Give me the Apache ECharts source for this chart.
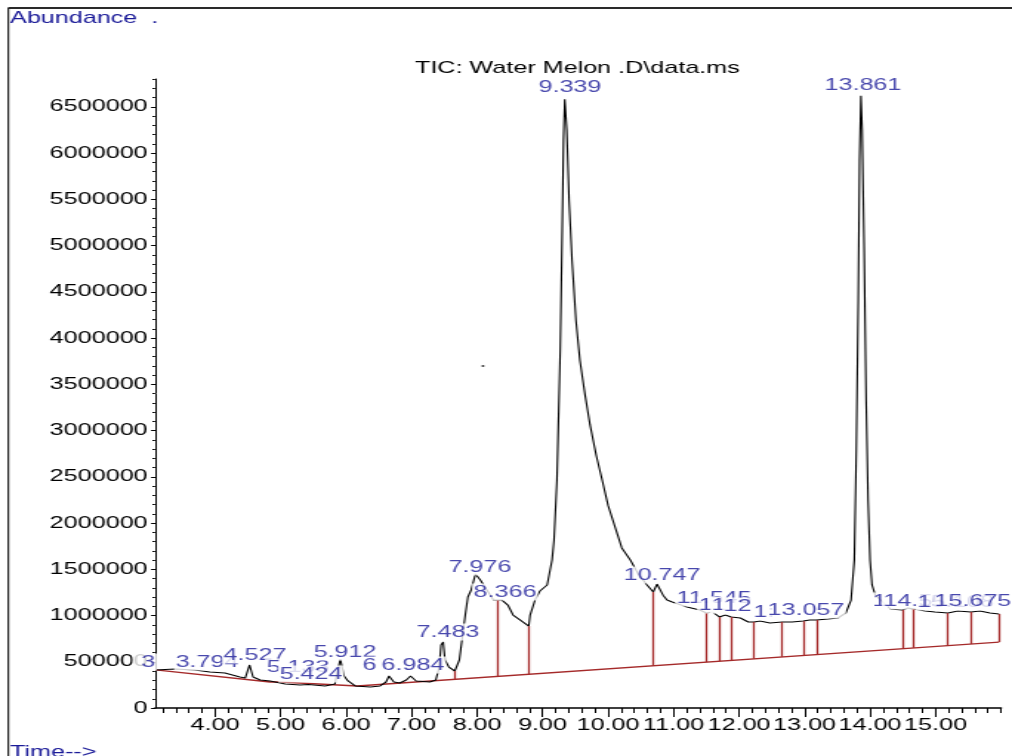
<!DOCTYPE html>
<html>
<head>
<meta charset="utf-8">
<script src="https://cdn.jsdelivr.net/npm/echarts@6.0.0/dist/echarts.min.js"></script>
<style>
  html, body { margin: 0; padding: 0; background: #fff; overflow: hidden; }
  /* the instrument printout is stretched sideways, so draw narrow and scale */
  #chart { width: 684px; height: 756px; transform: scaleX(1.4795); transform-origin: 0 0; }
</style>
</head>
<body>
<div id="chart"></div>
<script>
// TIC trace (minutes, abundance)
const traceTime = [3.09, 3.39, 3.69, 3.92, 4.15, 4.38, 4.46, 4.527, 4.58, 4.69, 4.84, 5.07, 5.30, 5.424, 5.68, 5.83, 5.912, 5.97, 6.03, 6.14,
  6.37, 6.52, 6.61, 6.656, 6.73, 6.82, 6.92, 6.984, 7.07, 7.28, 7.37, 7.42, 7.45, 7.483, 7.51, 7.57, 7.66, 7.73, 7.77, 7.82,
  7.86, 7.91, 7.976, 8.05, 8.15, 8.25, 8.38, 8.47, 8.55, 8.66, 8.79, 8.81, 8.885, 8.96, 9.07, 9.145, 9.175, 9.22, 9.27, 9.30,
  9.32, 9.339, 9.37, 9.405, 9.45, 9.51, 9.57, 9.65, 9.725, 9.82, 9.91, 10.0, 10.11, 10.21, 10.34, 10.46, 10.595, 10.69, 10.747, 10.84,
  10.90, 10.98, 11.205, 11.40, 11.50, 11.59, 11.70, 11.79, 11.88, 12.02, 12.14, 12.23, 12.32, 12.47, 12.66, 12.81, 12.98, 13.08, 13.18, 13.36,
  13.51, 13.63, 13.71, 13.76, 13.79, 13.82, 13.84, 13.861, 13.88, 13.91, 13.94, 13.97, 14.0, 14.03, 14.08, 14.31, 14.49, 14.58, 14.67, 14.84,
  14.99, 15.19, 15.34, 15.54, 15.68, 15.83, 15.97]
const traceAbund = [411000, 422000, 411000, 389000, 378000, 335000, 324000, 465000, 335000, 303000, 292000, 259000, 249000, 254000, 238000, 259000, 530000, 346000, 292000, 238000,
  227000, 238000, 281000, 346000, 281000, 270000, 303000, 346000, 292000, 281000, 303000, 432000, 681000, 713000, 519000, 443000, 400000, 519000, 735000, 1005000,
  1200000, 1276000, 1449000, 1384000, 1276000, 1167000, 1167000, 1113000, 1005000, 951000, 886000, 1005000, 1167000, 1265000, 1330000, 1600000, 1816000, 2465000, 3870000, 5170000,
  6140000, 6580000, 6250000, 5490000, 4840000, 4190000, 3760000, 3380000, 3060000, 2730000, 2465000, 2190000, 1950000, 1730000, 1600000, 1450000, 1330000, 1254000, 1340000, 1220000,
  1167000, 1146000, 1092000, 1060000, 1027000, 1038000, 984000, 1005000, 984000, 973000, 930000, 930000, 940000, 919000, 930000, 930000, 940000, 951000, 951000, 962000,
  973000, 1027000, 1167000, 1600000, 2790000, 4410000, 5920000, 6620000, 6250000, 4950000, 3330000, 2250000, 1600000, 1330000, 1220000, 1070000, 1060000, 1080000, 1070000, 1049000,
  1038000, 1027000, 1049000, 1038000, 1049000, 1027000, 1016000]

// integration baseline and drop lines
const baseTime = [3.09, 4.84, 4.99, 6.17, 15.97]
const baseAbund = [411000, 281000, 281000, 238000, 713000]
const dropTime = [7.66, 8.32, 8.79, 10.69, 11.50, 11.70, 11.88, 12.23, 12.66, 12.98, 13.18, 14.49, 14.67, 15.19, 15.54, 15.97]
const dropTop = [400000, 1167000, 886000, 1254000, 1027000, 984000, 984000, 930000, 930000, 940000, 951000, 1060000, 1070000, 1027000, 1038000, 1016000]
const dropBase = [310000, 342000, 365000, 457000, 496000, 506000, 515000, 532000, 553000, 568000, 578000, 641000, 650000, 675000, 692000, 713000]

// peak labels (left edge time, centre abundance)
const labelText = ['3', '3.794', '4.527', '5.133', '5.424', '5.912', '6', '6.984', '7.483', '7.976', '8.366', '9.339', '10.747', '11.545',
  '1', '1', '12', '1:', '13.057', '13.861', '1', '14.551', '15.108', '15.675']
const labelTime = [2.74, 3.374, 4.107, 4.763, 4.962, 5.481, 6.229, 6.519, 7.053, 7.542, 7.924, 8.916, 10.214, 11.023,
  11.359, 11.557, 11.74, 12.198, 12.412, 13.282, 14.015, 14.18, 14.70, 14.96]
const labelAbund = [497000, 497000, 573000, 443000, 368000, 605000, 465000, 465000, 822000, 1524000, 1254000, 6713000, 1438000, 1189000,
  1113000, 1113000, 1103000, 1038000, 1059000, 6735000, 1157000, 1157000, 1146000, 1157000]

// stray dot on the printout
const strayTime = [8.09]
const strayAbund = [3697000]

const xTicks = [4, 5, 6, 7, 8, 9, 10, 11, 12, 13, 14, 15]
const yTicks = [0, 500000, 1000000, 1500000, 2000000, 2500000, 3000000, 3500000, 4000000, 4500000, 5000000, 5500000, 6000000, 6500000]

const xMin = 3.084
const xMax = 16.0
const yMax = 6800000

const minorX = []
for (let i = 16; i <= 80; i++) minorX.push(+(i * 0.2).toFixed(1))

const font = 'Liberation Sans, Arial, sans-serif'
const blue = '#1a1a98'
const red = '#a52a2a'

const myChart = echarts.init(document.getElementById('chart'))

const option = {
  animation: false,
  backgroundColor: '#fff',
  title: [
    { text: 'TIC: Water Melon .D\\data.ms', left: 280.5, top: 59.5, padding: 0,
      textStyle: { fontFamily: font, fontSize: 17, lineHeight: 17, fontWeight: 'normal', color: '#000' } },
    { text: 'Abundance  .', left: 6.8, top: 9.5, padding: 0,
      textStyle: { fontFamily: font, fontSize: 17, lineHeight: 17, fontWeight: 'normal', color: blue } },
    { text: 'Time-->', left: 6.8, top: 743.5, padding: 0,
      textStyle: { fontFamily: font, fontSize: 17, lineHeight: 17, fontWeight: 'normal', color: blue } }
  ],
  graphic: [
    { type: 'line', shape: { x1: 5.4, y1: 8, x2: 684, y2: 8 }, style: { stroke: '#2a2a2a', lineWidth: 2 } },
    { type: 'line', shape: { x1: 5.6, y1: 8, x2: 5.6, y2: 756 }, style: { stroke: '#2a2a2a', lineWidth: 1.2 } }
  ],
  grid: { left: 104.8, right: 7.4, top: 79, bottom: 48 },
  xAxis: [
    {
      type: 'value', min: xMin, max: xMax,
      axisLine: { lineStyle: { color: '#000', width: 1.5 } },
      axisTick: { customValues: xTicks, length: 9, lineStyle: { color: '#000', width: 1 } },
      axisLabel: {
        customValues: xTicks, margin: 8.5, fontFamily: font, fontSize: 17, lineHeight: 17, color: '#000',
        formatter: v => v.toFixed(2)
      },
      splitLine: { show: false }
    },
    {
      type: 'value', min: xMin, max: xMax, position: 'bottom',
      axisLine: { show: false },
      axisTick: { customValues: minorX, length: 5, lineStyle: { color: '#000', width: 1 } },
      axisLabel: { show: false },
      splitLine: { show: false }
    }
  ],
  yAxis: [
    {
      type: 'value', min: 0, max: yMax,
      axisLine: { show: true, lineStyle: { color: '#000', width: 1 } },
      axisTick: { show: true, customValues: yTicks, length: 2.7, lineStyle: { color: '#000' } },
      axisLabel: {
        customValues: yTicks, margin: 5, fontFamily: font, fontSize: 17, color: '#000',
        formatter: v => String(v)
      },
      splitLine: { show: false }
    },
    {
      type: 'value', min: 0, max: yMax, interval: 100000, position: 'left',
      axisLine: { show: false },
      axisTick: { show: true, length: 1.8, lineStyle: { color: '#000' } },
      axisLabel: { show: false },
      splitLine: { show: false }
    }
  ],
  series: [
    {
      name: 'baseline',
      type: 'line',
      data: baseTime.map((t, i) => [t, baseAbund[i]]),
      showSymbol: false,
      lineStyle: { color: red, width: 1.3 },
      silent: true,
      markLine: {
        silent: true,
        symbol: ['none', 'none'],
        label: { show: false },
        lineStyle: { color: red, width: 1.3, type: 'solid' },
        data: dropTime.map((t, i) => [{ coord: [t, dropBase[i]] }, { coord: [t, dropTop[i]] }])
      }
    },
    {
      name: 'TIC',
      type: 'line',
      data: traceTime.map((t, i) => [t, traceAbund[i]]),
      showSymbol: false,
      lineStyle: { color: '#000', width: 1.1 },
      silent: true
    },
    {
      name: 'stray',
      type: 'scatter',
      data: strayTime.map((t, i) => [t, strayAbund[i]]),
      symbolSize: 2,
      itemStyle: { color: '#000' },
      silent: true
    },
    {
      name: 'peaks',
      type: 'scatter',
      z: 5,
      clip: false,
      symbolSize: 0,
      silent: true,
      data: labelTime.map((t, i) => {
        const item = { value: [t, labelAbund[i]], name: labelText[i] }
        // first label sits over the y axis text, with a wider white box
        if (i === 0) item.label = { padding: [0, 1, 0, 6] }
        return item
      }),
      label: {
        show: true,
        position: 'right',
        distance: 0,
        formatter: p => p.name,
        fontFamily: font,
        fontSize: 17,
        lineHeight: 17,
        color: blue,
        backgroundColor: '#fff',
        padding: [0, 1]
      },
      labelLayout: { hideOverlap: false }
    }
  ]
}

myChart.setOption(option)
</script>
</body>
</html>
